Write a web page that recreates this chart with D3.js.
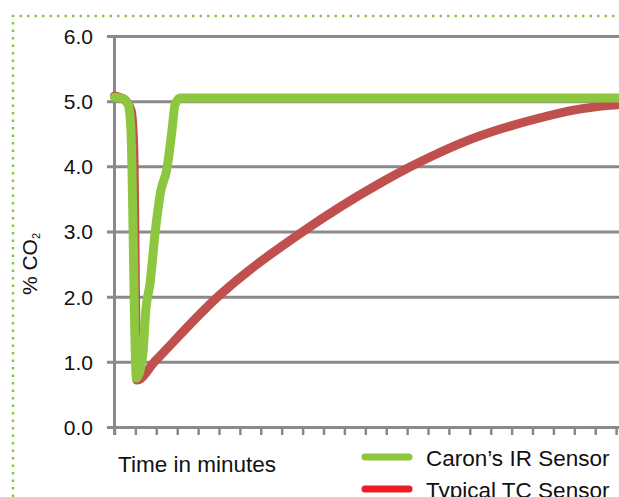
<!DOCTYPE html>
<html>
<head>
<meta charset="utf-8">
<script src="https://cdn.jsdelivr.net/npm/d3@7"></script>
<style>
  html, body { margin: 0; padding: 0; background: #fff; }
  svg { display: block; font-family: "Liberation Sans", Arial, sans-serif; }
</style>
</head>
<body>
<script>
// minutes vs % CO2
const irSensor = [
  [0, 5.06], [0.4, 5.04], [0.65, 4.95], [0.78, 4.6], [1.05, 0.75],
  [1.35, 1.1], [1.5, 1.8], [1.7, 2.2], [1.95, 3.0], [2.2, 3.6],
  [2.5, 3.95], [2.75, 4.55], [2.9, 4.95], [3.15, 5.05], [25, 5.05]
];
const tcSensor = [
  [0, 5.08], [0.45, 5.03], [0.8, 4.85], [0.92, 4.3], [1.07, 0.72],
  [1.94, 1.01], [4.95, 2.0], [9.02, 3.0], [12.7, 3.74], [14.2, 4.0],
  [17, 4.41], [20.2, 4.73], [22.1, 4.87], [24.1, 4.95], [25, 4.98]
];
const yTicks = [0, 1, 2, 3, 4, 5, 6];
const xTicks = d3.range(0, 26);
const legendItems = [
  { name: "Caron\u2019s IR Sensor", color: "#8dc63f" },
  { name: "Typical TC Sensor", color: "#ed1c24" }
];

const W = 619, H = 497;
const svg = d3.select("body").append("svg").attr("width", W).attr("height", H);

// dotted frame
svg.append("path")
  .attr("d", `M13,${H} L13,16 L${W},16`)
  .attr("fill", "none")
  .attr("stroke", "#8dc63f")
  .attr("stroke-width", 2.5)
  .attr("stroke-dasharray", "2.5 5");

const x = d3.scaleLinear().domain([0, 25]).range([114.5, 114.5 + 25 * 20.9]);
const y = d3.scaleLinear().domain([0, 6]).range([427, 36]);
const gridLeft = 107;

// y axis + gridlines
const gy = svg.append("g")
  .attr("transform", `translate(${gridLeft},0)`)
  .call(d3.axisLeft(y).tickValues(yTicks).tickFormat(d3.format(".1f"))
    .tickSize(-(640 - gridLeft)).tickPadding(14));
gy.select(".domain").remove();
gy.selectAll(".tick line").attr("stroke", "#8a8a8a").attr("stroke-width", 3);
gy.selectAll(".tick text").attr("fill", "#111").style("font-size", "21px").attr("dy", "0.35em");

// x axis tick marks
const gx = svg.append("g")
  .attr("transform", `translate(0,${y(0)})`)
  .call(d3.axisBottom(x).tickValues(xTicks).tickFormat("").tickSize(8));
gx.select(".domain").remove();
gx.selectAll(".tick line").attr("stroke", "#8a8a8a").attr("stroke-width", 2.5);

// vertical axis line
svg.append("line")
  .attr("x1", x(0)).attr("x2", x(0))
  .attr("y1", y(6)).attr("y2", y(0) + 8)
  .attr("stroke", "#8a8a8a").attr("stroke-width", 3);

const line = d3.line().x(d => x(d[0])).y(d => y(d[1])).curve(d3.curveMonotoneX);

svg.append("path")
  .datum(tcSensor)
  .attr("d", line)
  .attr("fill", "none")
  .attr("stroke", "#c0504d")
  .attr("stroke-width", 9)
  .attr("stroke-linejoin", "round")
  .attr("stroke-linecap", "round");

svg.append("path")
  .datum(irSensor)
  .attr("d", line)
  .attr("fill", "none")
  .attr("stroke", "#8dc63f")
  .attr("stroke-width", 9)
  .attr("stroke-linejoin", "round")
  .attr("stroke-linecap", "round");

// axis titles
svg.append("text")
  .attr("x", 118).attr("y", 472)
  .attr("fill", "#111")
  .style("font-size", "22.5px")
  .text("Time in minutes");

const yt = svg.append("text")
  .attr("transform", "translate(37,264) rotate(-90)")
  .attr("text-anchor", "middle")
  .attr("fill", "#111")
  .style("font-size", "21px");
yt.append("tspan").text("% CO");
yt.append("tspan").attr("dy", 3).style("font-size", "11px").text("2");

// legend
const lg = svg.append("g").selectAll("g").data(legendItems).join("g")
  .attr("transform", (d, i) => `translate(0,${457 + i * 32})`);
lg.append("line")
  .attr("x1", 365).attr("x2", 409)
  .attr("stroke", d => d.color)
  .attr("stroke-width", 7)
  .attr("stroke-linecap", "round");
lg.append("text")
  .attr("x", 426).attr("y", 8.5)
  .attr("fill", "#111")
  .style("font-size", "22.5px")
  .text(d => d.name);
</script>
</body>
</html>
